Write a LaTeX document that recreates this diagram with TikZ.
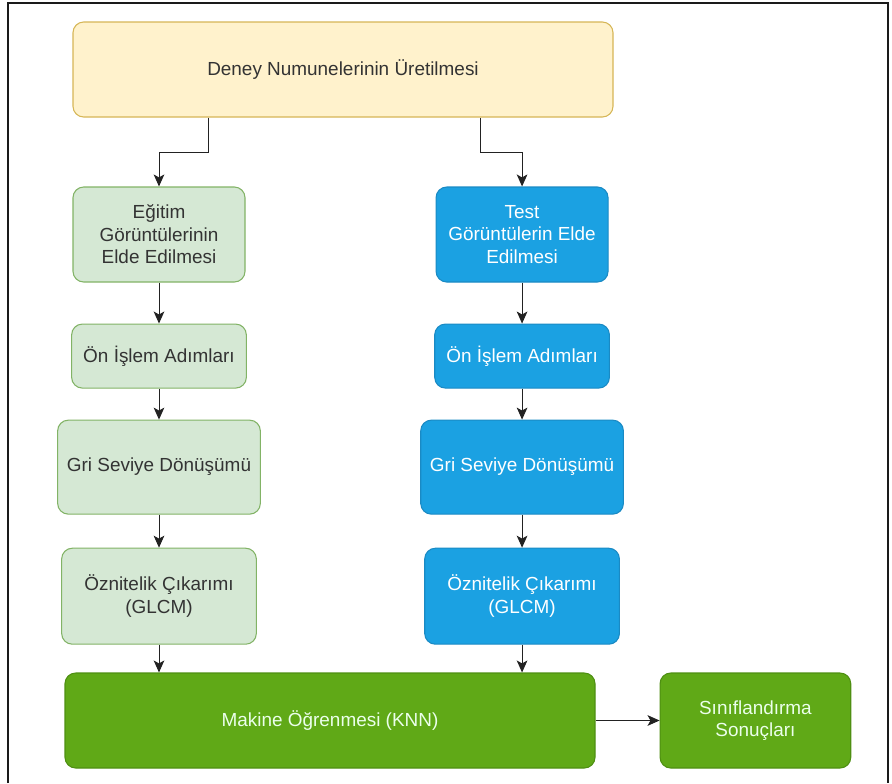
\documentclass[tikz,border=0pt]{standalone}
\usepackage{fontspec}
\setmainfont{Liberation Sans}
\usetikzlibrary{arrows.meta, positioning}
\definecolor{startBg}{HTML}{FFF2CC}
\definecolor{startBorder}{HTML}{D6B656}
\definecolor{trainBg}{HTML}{D5E8D4}
\definecolor{trainBorder}{HTML}{82B366}
\definecolor{testBg}{HTML}{1BA1E2}
\definecolor{testBorder}{HTML}{1A8AC4}
\definecolor{mlBg}{HTML}{60A917}
\definecolor{mlBorder}{HTML}{4E8F12}
\definecolor{arrowColor}{HTML}{222222}
\definecolor{labelColor}{HTML}{333333}
\definecolor{frameColor}{HTML}{1A1A1A}

\begin{document}
\begin{tikzpicture}[
    x=0.75pt, y=-0.75pt,
    font=\fontsize{14.2}{16.8}\selectfont,
    basebox/.style={
        rounded corners=8pt, line width=0.8pt,
        align=center, inner sep=2pt
    },
    startbox/.style={
        basebox, draw=startBorder, fill=startBg, text=labelColor,
        minimum width=405pt, minimum height=71.25pt
    },
    trainbox/.style={
        basebox, draw=trainBorder, fill=trainBg, text=labelColor
    },
    testbox/.style={
        basebox, draw=testBorder, fill=testBg, text=white
    },
    mlbox/.style={
        basebox, draw=mlBorder, fill=mlBg, text=white!92!green,
        minimum height=71.25pt
    },
    acqsize/.style={minimum width=129pt, minimum height=71.25pt},
    presize/.style={minimum width=131pt, minimum height=48pt},
    grisize/.style={minimum width=152pt, minimum height=70.5pt},
    featsize/.style={minimum width=146pt, minimum height=72pt},
    flowarrow/.style={
        -{Stealth[length=9pt,width=8pt,inset=2.2pt]},
        arrowColor, line width=0.75pt
    },
]

% frame
\useasboundingbox (0,0) rectangle (892,783);
\draw[frameColor, line width=1.1pt] (8,783) -- (8,3) -- (888,3) -- (888,783);

% ============================================================
%  START
% ============================================================
\node[startbox] (deney) at (343,69.5) {Deney Numunelerinin Üretilmesi};

% ============================================================
%  TRAINING BRANCH
% ============================================================
\node[trainbox, acqsize] (egitim) at (159,234.5)
    {Eğitim\\Görüntülerinin\\Elde Edilmesi};
\node[trainbox, presize, below=30.75pt of egitim] (onL) {Ön İşlem Adımları};
\node[trainbox, grisize, below=23.25pt of onL] (griL) {Gri Seviye Dönüşümü};
\node[trainbox, featsize, below=24.75pt of griL] (oznL)
    {Öznitelik Çıkarımı\\(GLCM)};

% ============================================================
%  TEST BRANCH
% ============================================================
\node[testbox, acqsize, right=142.5pt of egitim] (test)
    {Test\\Görüntülerin Elde\\Edilmesi};
\node[testbox, presize, below=30.75pt of test] (onR) {Ön İşlem Adımları};
\node[testbox, grisize, below=23.25pt of onR] (griR) {Gri Seviye Dönüşümü};
\node[testbox, featsize, below=24.75pt of griR] (oznR)
    {Öznitelik Çıkarımı\\(GLCM)};

% ============================================================
%  CLASSIFICATION
% ============================================================
\node[mlbox, minimum width=397.5pt] (knn) at (330,720.5)
    {Makine Öğrenmesi (KNN)};
\node[mlbox, minimum width=143pt, right=48pt of knn] (sonuc)
    {Sınıflandırma\\Sonuçları};

% ============================================================
%  CONNECTORS
% ============================================================
\coordinate (splitL) at (208,152);
\coordinate (splitR) at (480,152);
\draw[flowarrow] (deney.south -| splitL) -- (splitL) -| (egitim.north);
\draw[flowarrow] (deney.south -| splitR) -- (splitR) -| (test.north);

\draw[flowarrow] (egitim) -- (onL);
\draw[flowarrow] (onL) -- (griL);
\draw[flowarrow] (griL) -- (oznL);
\draw[flowarrow] (oznL.south) -- (oznL.south |- knn.north);

\draw[flowarrow] (test) -- (onR);
\draw[flowarrow] (onR) -- (griR);
\draw[flowarrow] (griR) -- (oznR);
\draw[flowarrow] (oznR.south) -- (oznR.south |- knn.north);

\draw[flowarrow] (knn) -- (sonuc);

\end{tikzpicture}
\end{document}
